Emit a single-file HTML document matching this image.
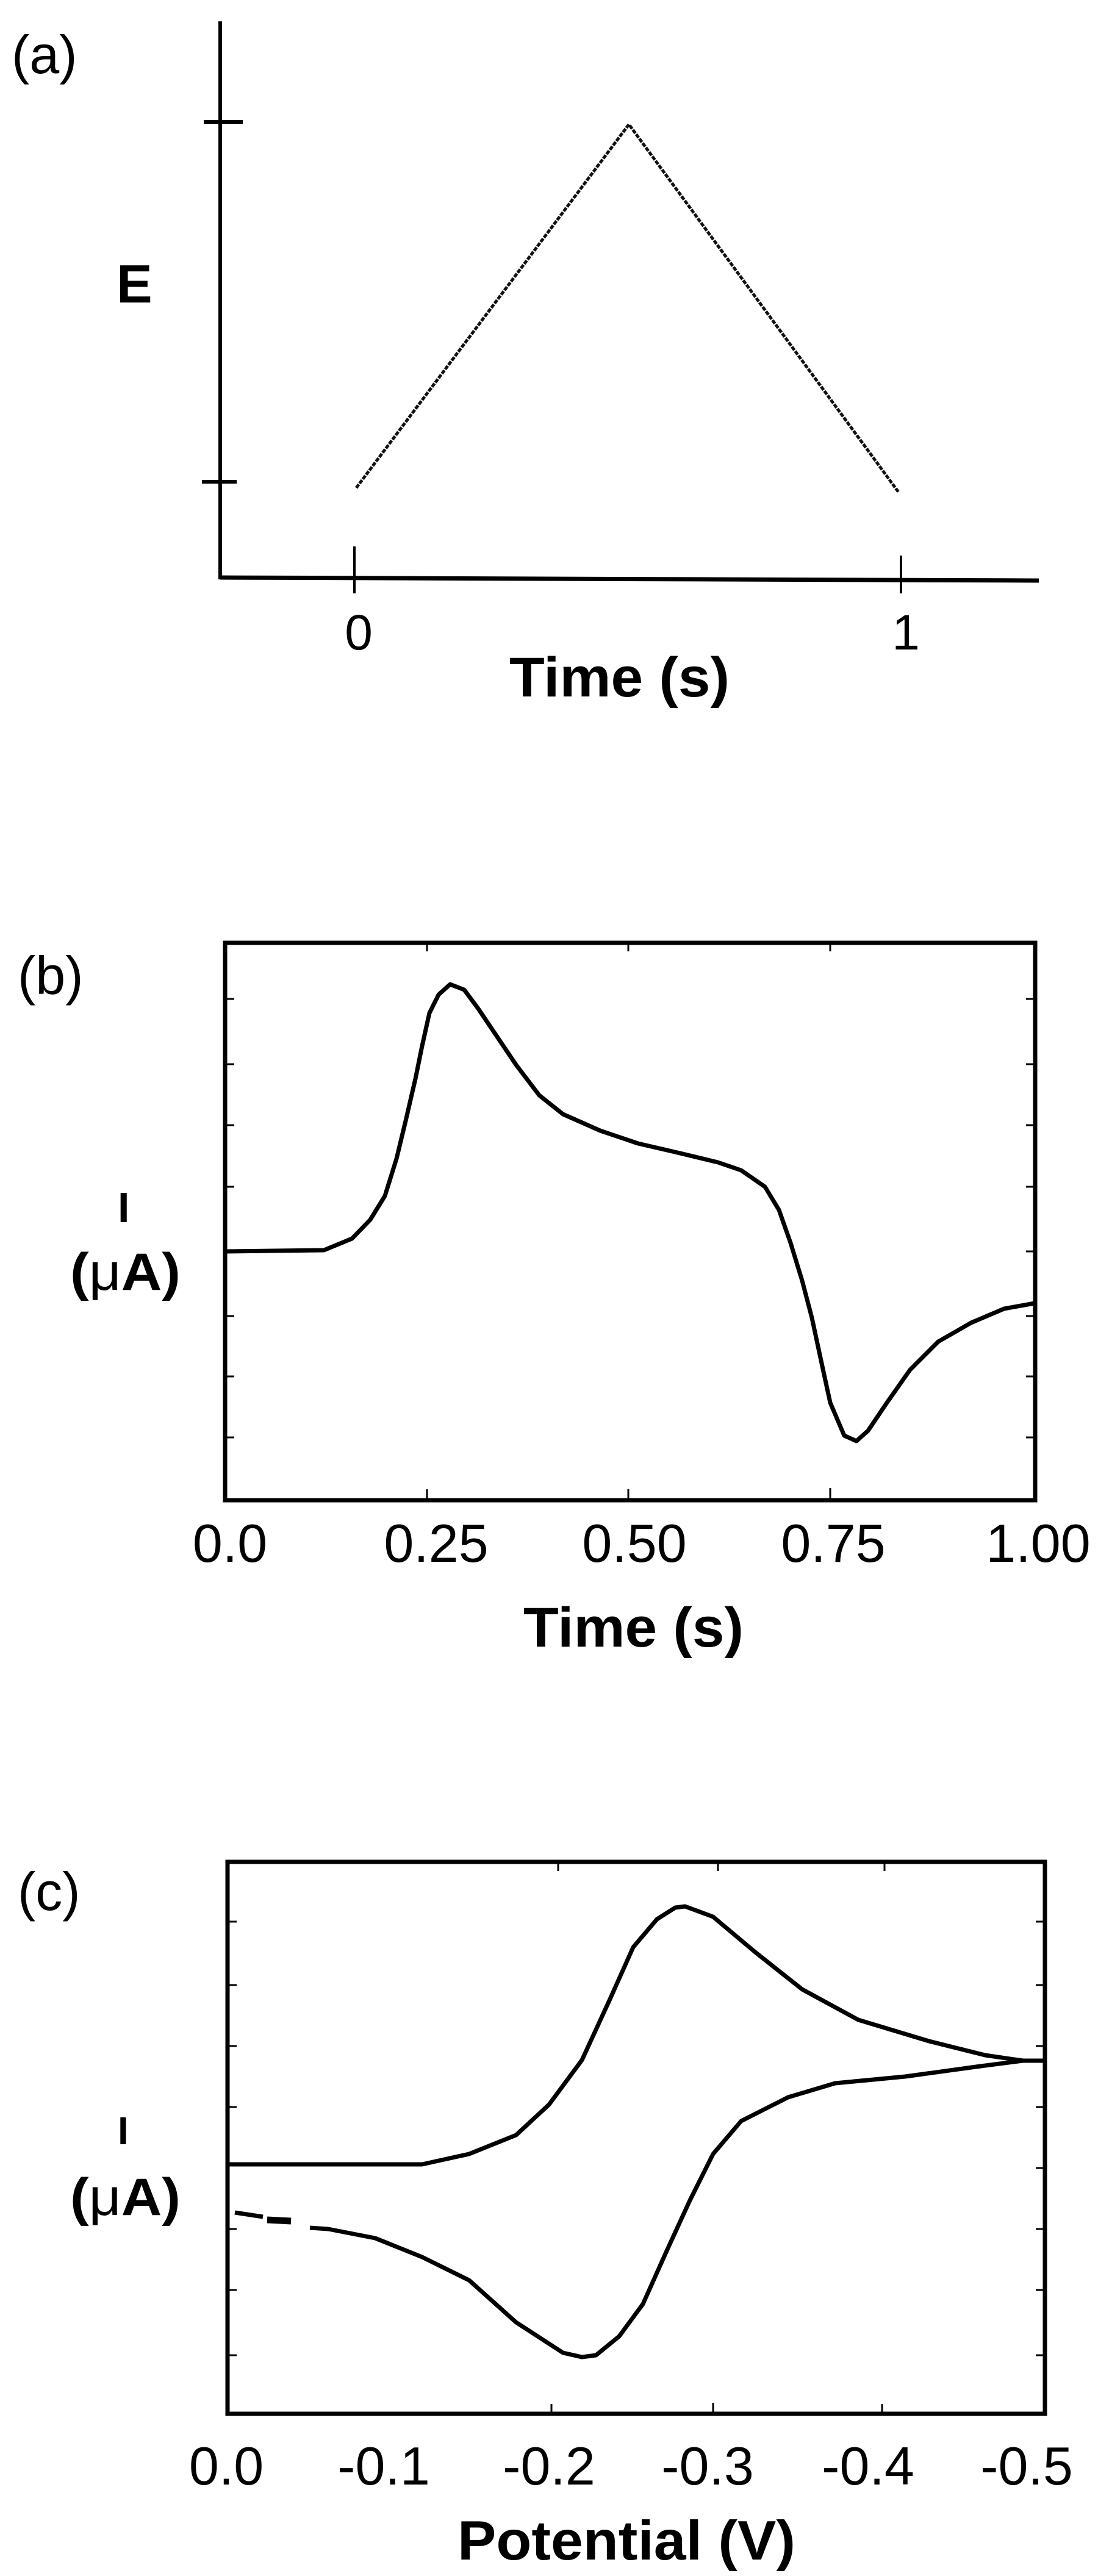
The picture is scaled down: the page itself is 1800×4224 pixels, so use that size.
<!DOCTYPE html>
<html><head><meta charset="utf-8"><style>
html,body{margin:0;padding:0;background:#fff;overflow:hidden;}
svg{display:block;}
text{font-family:"Liberation Sans",Arial,sans-serif;fill:#000;}
</style></head><body>
<svg width="1800" height="4224" viewBox="0 0 1800 4224" xmlns="http://www.w3.org/2000/svg">
<!-- Panel (a) -->
<text x="19" y="120" font-size="88">(a)</text>
<text x="191" y="496" font-size="88" font-weight="bold">E</text>
<line x1="361" y1="35" x2="361" y2="950" stroke="#000" stroke-width="6"/>
<line x1="334" y1="200" x2="398" y2="200" stroke="#000" stroke-width="6"/>
<line x1="331" y1="790" x2="388" y2="790" stroke="#000" stroke-width="6"/>
<line x1="361" y1="947" x2="1703" y2="952" stroke="#000" stroke-width="7"/>
<line x1="581" y1="896" x2="581" y2="973" stroke="#000" stroke-width="4"/>
<line x1="1477" y1="911" x2="1477" y2="973" stroke="#000" stroke-width="4"/>
<polyline points="584,800 1031,204 1473,807" fill="none" stroke="#111" stroke-width="5" stroke-dasharray="7,2"/>
<text x="588" y="1065" font-size="82" text-anchor="middle">0</text>
<text x="1485" y="1065" font-size="82" text-anchor="middle">1</text>
<text x="835" y="1142" font-size="92" font-weight="bold" textLength="361" lengthAdjust="spacingAndGlyphs">Time (s)</text>

<!-- Panel (b) -->
<text x="29" y="1630" font-size="88">(b)</text>
<text x="193" y="2004" font-size="70" font-weight="bold" style="font-size:70px">I</text>
<text x="115" y="2115" font-size="86" font-weight="bold" textLength="181" lengthAdjust="spacingAndGlyphs">(<tspan font-weight="normal">μ</tspan>A)</text>
<rect x="369" y="1546" width="1328" height="914" fill="none" stroke="#000" stroke-width="7"/>
<g stroke="#000" stroke-width="3">
<line x1="369" y1="1638" x2="384" y2="1638"/><line x1="369" y1="1745" x2="384" y2="1745"/><line x1="369" y1="1845" x2="384" y2="1845"/><line x1="369" y1="1946" x2="384" y2="1946"/><line x1="369" y1="2158" x2="384" y2="2158"/><line x1="369" y1="2257" x2="384" y2="2257"/><line x1="369" y1="2357" x2="384" y2="2357"/>
<line x1="1682" y1="1638" x2="1697" y2="1638"/><line x1="1682" y1="1745" x2="1697" y2="1745"/><line x1="1682" y1="1845" x2="1697" y2="1845"/><line x1="1682" y1="1946" x2="1697" y2="1946"/><line x1="1682" y1="2052" x2="1697" y2="2052"/><line x1="1682" y1="2158" x2="1697" y2="2158"/><line x1="1682" y1="2257" x2="1697" y2="2257"/><line x1="1682" y1="2357" x2="1697" y2="2357"/>
<line x1="700" y1="2460" x2="700" y2="2442"/><line x1="1030" y1="2460" x2="1030" y2="2442"/><line x1="1361" y1="2460" x2="1361" y2="2440"/>
<line x1="700" y1="1546" x2="700" y2="1560"/><line x1="1030" y1="1546" x2="1030" y2="1560"/><line x1="1361" y1="1546" x2="1361" y2="1560"/>
</g>
<polyline fill="none" stroke="#000" stroke-width="7" stroke-linejoin="round" points="369,2052 531,2050 577,2031 607,2000 631,1961 650,1900 665,1838 681,1769 692,1715 704,1661 719,1631 738,1614 761,1623 784,1654 815,1700 846,1746 884,1796 923,1827 984,1854 1046,1875 1115,1891 1177,1906 1215,1919 1254,1946 1277,1984 1296,2038 1315,2100 1331,2161 1346,2231 1361,2300 1384,2354 1404,2363 1423,2346 1454,2300 1492,2246 1538,2200 1592,2169 1646,2146 1696,2137"/>
<g font-size="88" text-anchor="middle">
<text x="377" y="2561">0.0</text><text x="715" y="2561">0.25</text><text x="1040" y="2561">0.50</text><text x="1366" y="2561">0.75</text><text x="1702" y="2561">1.00</text>
</g>
<text x="858" y="2700" font-size="92" font-weight="bold" textLength="361" lengthAdjust="spacingAndGlyphs">Time (s)</text>

<!-- Panel (c) -->
<text x="29" y="3132" font-size="88">(c)</text>
<text x="193" y="3516" font-size="64" font-weight="bold" style="font-size:64px">I</text>
<text x="115" y="3632" font-size="86" font-weight="bold" textLength="181" lengthAdjust="spacingAndGlyphs">(<tspan font-weight="normal">μ</tspan>A)</text>
<rect x="373" y="3053" width="1340" height="905" fill="none" stroke="#000" stroke-width="7"/>
<g stroke="#000" stroke-width="3">
<line x1="373" y1="3151" x2="388" y2="3151"/><line x1="373" y1="3255" x2="388" y2="3255"/><line x1="373" y1="3355" x2="388" y2="3355"/><line x1="373" y1="3455" x2="388" y2="3455"/><line x1="373" y1="3655" x2="388" y2="3655"/><line x1="373" y1="3755" x2="388" y2="3755"/><line x1="373" y1="3862" x2="388" y2="3862"/>
<line x1="1698" y1="3151" x2="1713" y2="3151"/><line x1="1698" y1="3255" x2="1713" y2="3255"/><line x1="1698" y1="3355" x2="1713" y2="3355"/><line x1="1698" y1="3455" x2="1713" y2="3455"/><line x1="1698" y1="3555" x2="1713" y2="3555"/><line x1="1698" y1="3655" x2="1713" y2="3655"/><line x1="1698" y1="3755" x2="1713" y2="3755"/><line x1="1698" y1="3862" x2="1713" y2="3862"/>
<line x1="904" y1="3958" x2="904" y2="3942"/><line x1="1169" y1="3958" x2="1169" y2="3940"/><line x1="1446" y1="3958" x2="1446" y2="3942"/>
<line x1="915" y1="3053" x2="915" y2="3068"/><line x1="1177" y1="3053" x2="1177" y2="3068"/><line x1="1450" y1="3053" x2="1450" y2="3068"/>
</g>
<polyline fill="none" stroke="#000" stroke-width="7" stroke-linejoin="round" points="373,3549 692,3549 769,3532 846,3501 900,3451 954,3378 1000,3278 1038,3193 1077,3147 1107,3128 1123,3126 1169,3143 1238,3201 1315,3262 1407,3312 1523,3347 1615,3370 1677,3379 1713,3379"/>
<polyline fill="none" stroke="#000" stroke-width="7" stroke-linejoin="round" points="1677,3379 1600,3389 1484,3405 1369,3416 1292,3439 1215,3478 1169,3532 1131,3608 1092,3693 1054,3778 1015,3831 977,3862 954,3865 923,3858 846,3808 769,3739 692,3701 615,3670 538,3655 508,3653"/>
<line x1="438" y1="3640" x2="477" y2="3642" stroke="#000" stroke-width="11"/>
<line x1="385" y1="3628" x2="431" y2="3635" stroke="#000" stroke-width="7"/>
<g font-size="88" text-anchor="middle">
<text x="371" y="4074">0.0</text><text x="629" y="4074">-0.1</text><text x="900" y="4074">-0.2</text><text x="1160" y="4074">-0.3</text><text x="1423" y="4074">-0.4</text><text x="1683" y="4074">-0.5</text>
</g>
<text x="750" y="4197" font-size="91" font-weight="bold" textLength="554" lengthAdjust="spacingAndGlyphs">Potential (V)</text>
</svg>
</body></html>
